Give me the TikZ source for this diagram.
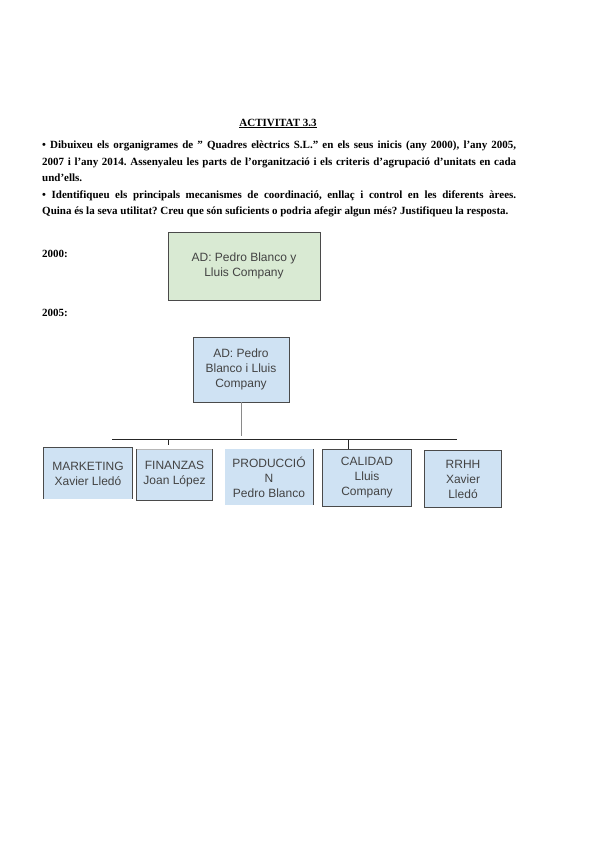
\documentclass[tikz,border=0pt]{standalone}
\usepackage{fontspec}
\setmainfont{Liberation Serif}
\setsansfont{Liberation Sans}
\usetikzlibrary{positioning}
\definecolor{orgGreen}{HTML}{D9EAD3}
\definecolor{orgBlue}{HTML}{CFE2F3}
\definecolor{orgEdge}{HTML}{4A4A4A}
\definecolor{orgText}{HTML}{434343}
\definecolor{orgStem}{HTML}{8A8A8A}
\tikzset{
  orgnode/.style={
    inner sep=0pt, align=center, text=orgText,
    font=\sffamily\fontsize{12}{15}\selectfont
  },
  adbox/.style={orgnode, fill=orgGreen, draw=orgEdge, line width=0.8pt},
  adblue/.style={orgnode, fill=orgBlue, draw=orgEdge, line width=0.8pt},
  deptbox/.style={orgnode, fill=orgBlue},
  edge/.style={draw=orgEdge, line width=0.8pt},
  busline/.style={draw=black!85, line width=0.6pt},
  stemline/.style={draw=orgStem, line width=0.6pt},
  bodytext/.style={font=\bfseries\fontsize{11}{16.5}\selectfont\frenchspacing, inner sep=0pt},
  yearlabel/.style={bodytext, anchor=base west}
}

\begin{document}
\begin{tikzpicture}[x=1pt, y=-1pt]
  \useasboundingbox[fill=white] (0,0) rectangle (600,848);

  % heading and task text
  \node[bodytext, anchor=base] (title) at (278,126) {\underline{ACTIVITAT 3.3}};
  \node[bodytext, anchor=north west, text width=474pt, align=justify] (task) at (42,141) {%
    • Dibuixeu els organigrames de " Quadres elèctrics S.L." en els seus inicis (any 2000), l'any 2005,\linebreak
    2007 i l'any 2014. Assenyaleu les parts de l'organització i els criteris d'agrupació d'unitats en cada\linebreak
    und'ells.\par
    \parfillskip=0pt
    • Identifiqueu els principals mecanismes de coordinació, enllaç i control en les diferents àrees.\linebreak
    Quina és la seva utilitat? Creu que són suficients o podria afegir algun més? Justifiqueu la resposta.};

  % year 2000
  \node[yearlabel] (y2000) at (42,257) {2000:};
  \node[adbox, minimum width=152pt, minimum height=68pt] (ad00) at (244,266) {AD: Pedro Blanco y\\Lluis Company};

  % year 2005
  \node[yearlabel] (y2005) at (42,316) {2005:};
  \node[adblue, minimum width=96pt, minimum height=65pt] (ad05) at (241,369.5) {AD: Pedro\\Blanco i Lluis\\Company};

  \node[deptbox, minimum width=88pt, minimum height=51pt] (mkt) at (88,473.5) {MARKETING\\Xavier Lledó};
  \node[deptbox, minimum width=75pt, minimum height=51pt] (fin) at (174.5,474.5) {FINANZAS\\Joan López};
  \node[deptbox, minimum width=88pt, minimum height=56pt] (prod) at (269,477) {PRODUCCIÓ\\N\\Pedro Blanco};
  \node[deptbox, minimum width=88pt, minimum height=56pt] (cal) at (367,478) {CALIDAD\\Lluis\\Company};
  \node[deptbox, minimum width=76pt, minimum height=56pt] (rrhh) at (463,479) {RRHH\\Xavier\\Lledó};

  % box edges as printed
  \draw[edge] (mkt.south west) -- (mkt.north west) -- (mkt.north east) -- (mkt.south east);
  \draw[edge] (fin.north west) -- (fin.south west) -- (fin.south east) -- (fin.north east);
  \draw[draw=orgEdge!40, line width=0.5pt] (fin.north west) -- (fin.north east);
  \draw[edge] (prod.north east) -- (prod.south east);
  \draw[edge] (cal.south west) rectangle (cal.north east);
  \draw[edge] (rrhh.south west) rectangle (rrhh.north east);

  % connectors
  \coordinate (busL) at (112,439);
  \coordinate (busR) at (457,439);
  \coordinate (stemEnd) at (241,436);
  \coordinate (tickFin) at (168,439);
  \coordinate (tickCal) at (348,439);
  \draw[stemline] (ad05.south) -- (stemEnd);
  \draw[busline] (busL) -- (busR);
  \draw[busline] (tickFin) -- ++(0,6);
  \draw[busline] (tickCal) -- ++(0,10);
\end{tikzpicture}
\end{document}
